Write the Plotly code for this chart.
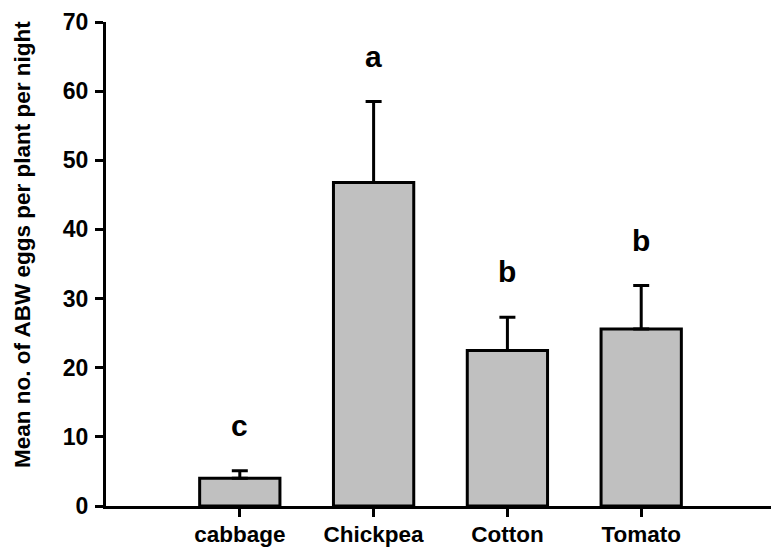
import plotly.graph_objects as go

# Mean egg counts per host plant, with upper standard-error bars
crops = ["cabbage", "Chickpea", "Cotton", "Tomato"]
mean_eggs = [4.0, 46.8, 22.5, 25.6]
se_eggs = [1.1, 11.7, 4.8, 6.3]
sig_letters = ["c", "a", "b", "b"]

y_ticks = [0, 10, 20, 30, 40, 50, 60, 70]

FONT = "Arial, 'Liberation Sans', Helvetica, sans-serif"

fig = go.Figure()

fig.add_trace(go.Bar(
    x=crops,
    y=mean_eggs,
    width=0.6,
    marker=dict(color="#c0c0c0", line=dict(color="black", width=3)),
    error_y=dict(
        type="data",
        symmetric=False,
        array=se_eggs,
        arrayminus=[0] * len(se_eggs),
        color="black",
        thickness=3,
        width=8,
    ),
    showlegend=False,
))

# significance letters above each error bar
for crop, m, se, letter in zip(crops, mean_eggs, se_eggs, sig_letters):
    fig.add_annotation(
        x=crop, y=m + se + 4.6,
        text=f"<b>{letter}</b>",
        showarrow=False,
        yanchor="bottom",
        yshift=-5,
        font=dict(family=FONT, size=30, color="black"),
    )

# y-axis title placed as a rotated annotation
fig.add_annotation(
    xref="paper", yref="paper",
    x=0, y=0.5,
    xanchor="center", yanchor="middle",
    xshift=-84, yshift=19,
    textangle=-90,
    text="<b>Mean no. of ABW eggs per plant per night</b>",
    showarrow=False,
    font=dict(family=FONT, size=22.5, color="black"),
)

fig.update_layout(
    width=771, height=548,
    margin=dict(l=106, r=0, t=22, b=42, autoexpand=False),
    plot_bgcolor="white",
    paper_bgcolor="white",
    font=dict(family=FONT, size=22, color="black"),
    bargap=0.4,
)

fig.update_xaxes(
    type="category",
    categoryorder="array",
    categoryarray=crops,
    range=[-1, 3.97],
    automargin=False,
    showline=True, linecolor="black", linewidth=3,
    ticks="outside", ticklen=8, tickwidth=3, tickcolor="black",
    showgrid=False, zeroline=False,
    ticklabelstandoff=-2,
    tickfont=dict(family=FONT, size=22.5, color="black", weight="bold"),
)

fig.update_yaxes(
    range=[0, 70],
    tickvals=y_ticks,
    automargin=False,
    showline=True, linecolor="black", linewidth=3,
    ticks="outside", ticklen=8, tickwidth=3, tickcolor="black",
    showgrid=False, zeroline=False,
    ticklabelstandoff=2,
    tickfont=dict(family=FONT, size=23, color="black", weight="bold"),
)

fig.write_html("out.html")
